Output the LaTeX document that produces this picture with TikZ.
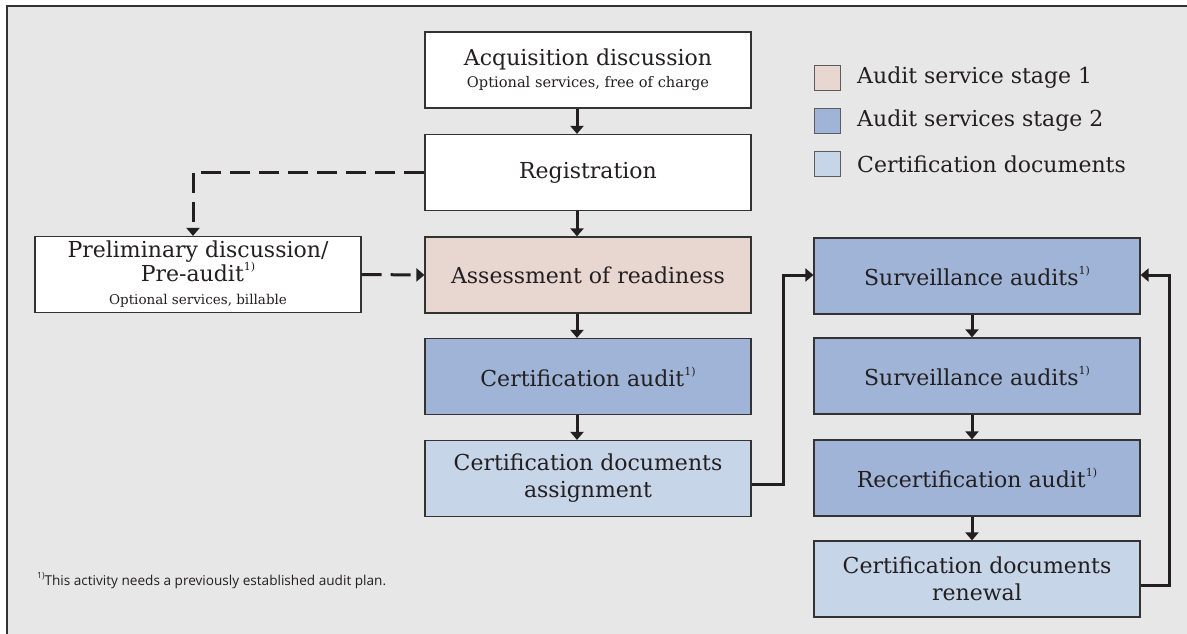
\documentclass[tikz,border=0pt]{standalone}
\usepackage{fontspec}
\setmainfont{DejaVu Serif}
\newfontfamily\fnfont{Open Sans}
\usetikzlibrary{arrows.meta,calc}
\definecolor{bg}{HTML}{E7E7E7}
\definecolor{pinkfill}{HTML}{E8D6D1}
\definecolor{bluefill}{HTML}{9FB4D6}
\definecolor{lightfill}{HTML}{C6D5E8}
\definecolor{ink}{HTML}{231F20}
\definecolor{edge}{HTML}{333333}
\newcommand\fnm{\raisebox{0.5em}{\fontsize{11}{11}\selectfont 1)}}
\begin{document}
\begin{tikzpicture}[x=1pt,y=-1pt,
 box/.style={draw=edge, line width=1.2pt, minimum width=326pt, minimum height=76pt, inner sep=0pt, align=center, font=\fontsize{22}{27}\selectfont, text=ink},
 whitebox/.style={box, fill=white},
 stageone/.style={box, fill=pinkfill},
 stagetwo/.style={box, fill=bluefill},
 docbox/.style={box, fill=lightfill},
 flow/.style={draw=ink, line width=3pt, -{Triangle[width=13pt,length=8pt]}},
 dflow/.style={flow, dash pattern=on 20pt off 9pt},
 legsq/.style={draw=edge!80, line width=0.8pt, minimum width=26pt, minimum height=25pt, inner sep=0pt},
 legtext/.style={anchor=west, font=\fontsize{22}{26}\selectfont, text=ink, inner sep=0pt}
]
\useasboundingbox (0,0) rectangle (1187,634);
\fill[bg] (7,6) rectangle (1187,634);
\draw[edge, line width=1.5pt] (1187,6) -- (7,6) -- (7,634);

% left/center column
\node[whitebox] (acq) at (588,70) {Acquisition discussion\\[-5pt]\fontsize{14.6}{16}\selectfont Optional services, free of charge};
\node[whitebox] (reg) at (588,172.5) {Registration};
\node[stageone] (ass) at (588,275) {Assessment of readiness};
\node[stagetwo] (cau) at (588,376.5) {Certification audit\fnm};
\node[docbox] (asg) at (588,478.5) {Certification documents\\assignment};
\node[whitebox] (pre) at (198,274.5) {Preliminary discussion/\\[-3pt]Pre-audit\fnm\\[-4pt]\fontsize{13.5}{16}\selectfont Optional services, billable};

% right column
\node[stagetwo] (sv1) at (977,276) {Surveillance audits\fnm};
\node[stagetwo] (sv2) at (977,376) {Surveillance audits\fnm};
\node[stagetwo] (rec) at (977,478) {Recertification audit\fnm};
\node[docbox] (ren) at (977,579) {Certification documents\\renewal};

% legend
\node[legsq, fill=pinkfill] (l1) at (827,77.5) {};
\node[legsq, fill=bluefill] (l2) at (827,120.5) {};
\node[legsq, fill=lightfill] (l3) at (827,164) {};
\node[legtext] (t1) at (857,77.5) {Audit service stage 1};
\node[legtext] (t2) at (857,120.5) {Audit services stage 2};
\node[legtext] (t3) at (857,164) {Certification documents};

% footnote
\node[anchor=base west, inner sep=0pt, text=ink, font=\fnfont\fontsize{13.6}{15}\selectfont] (fn) at (37,585) {\raisebox{0.5em}{\fontsize{8.5}{8.5}\selectfont 1)}This activity needs a previously established audit plan.};

% solid connectors
\draw[flow] ($(acq.south)+(-11,0)$) -- ($(reg.north)+(-11,0)$);
\draw[flow] ($(reg.south)+(-11,0)$) -- ($(ass.north)+(-11,0)$);
\draw[flow] ($(ass.south)+(-11,0)$) -- ($(cau.north)+(-11,0)$);
\draw[flow] ($(cau.south)+(-11,0)$) -- ($(asg.north)+(-11,0)$);
\draw[flow] ($(sv1.south)+(-5,0)$) -- ($(sv2.north)+(-5,0)$);
\draw[flow] ($(sv2.south)+(-5,0)$) -- ($(rec.north)+(-5,0)$);
\draw[flow] ($(rec.south)+(-5,0)$) -- ($(ren.north)+(-5,0)$);
\coordinate (j1) at (783,0);
\coordinate (j2) at (1169,0);
\draw[flow] ($(asg.east)+(0,6)$) -| (j1 |- ass.center) -- (sv1.west |- ass.center);
\draw[flow] ($(ren.east)+(0,6)$) -| (j2 |- ass.center) -- (sv1.east |- ass.center);

% dashed connectors
\draw[dflow] (reg.west) -| ($(pre.north)+(-5,0)$);
\draw[dflow] (pre.east) -- (ass.west);
\end{tikzpicture}
\end{document}
